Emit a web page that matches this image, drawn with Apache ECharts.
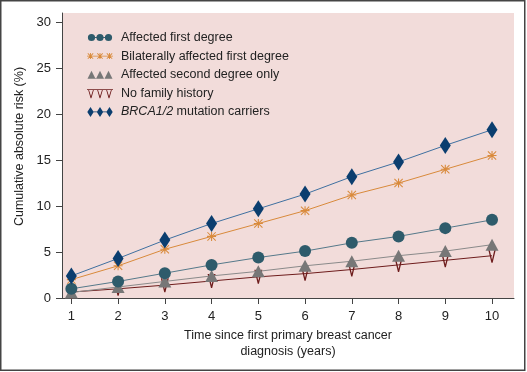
<!DOCTYPE html>
<html>
<head>
<meta charset="utf-8">
<script src="https://cdn.jsdelivr.net/npm/echarts@6/dist/echarts.min.js"></script>
<style>
html,body{margin:0;padding:0;background:#fff;}
#chart{width:527px;height:372px;}
</style>
</head>
<body>
<div id="chart"></div>
<script>
// ---- data ----
const years = [1, 2, 3, 4, 5, 6, 7, 8, 9, 10];
const seriesNames = [
  'Affected first degree',
  'Bilaterally affected first degree',
  'Affected second degree only',
  'No family history',
  'BRCA1/2 mutation carriers'
];
const affectedFirst = [1.0, 1.8, 2.7, 3.6, 4.4, 5.1, 6.0, 6.7, 7.6, 8.5];
const bilateralFirst = [2.0, 3.5, 5.3, 6.7, 8.1, 9.5, 11.2, 12.5, 14.0, 15.5];
const secondDegree = [0.6, 1.2, 1.8, 2.4, 2.9, 3.5, 4.0, 4.6, 5.1, 5.8];
const noFamily = [0.65, 1.0, 1.4, 1.85, 2.3, 2.65, 3.1, 3.6, 4.1, 4.6];
const brca = [2.4, 4.3, 6.3, 8.1, 9.7, 11.3, 13.2, 14.8, 16.6, 18.3];
const yTicks = [0, 5, 10, 15, 20, 25, 30];
const xTicks = [1, 2, 3, 4, 5, 6, 7, 8, 9, 10];

const zip = arr => years.map((x, i) => [x, arr[i]]);

// ---- marker shapes ----
const asterisk = 'path://M4.4,0 L5.6,0 L5.6,10 L4.4,10 Z M0,4.4 L10,4.4 L10,5.6 L0,5.6 Z M0.8,0 L10,9.2 L9.2,10 L0,0.8 Z M9.2,0 L10,0.8 L0.8,10 L0,9.2 Z';
const vee = 'path://M0,0 L1.4,0 L4,11 L6.6,0 L8,0 L4.6,14 L3.4,14 Z';

// legend icons (26 x 10 boxes)
function circ(cx, cy, r) {
  return 'M' + (cx - r) + ',' + cy + ' A' + r + ',' + r + ' 0 1,1 ' + (cx + r) + ',' + cy + ' A' + r + ',' + r + ' 0 1,1 ' + (cx - r) + ',' + cy + ' Z ';
}
const bbox = 'M0,0 L0.01,0 L0,0.01 Z M26,10 L25.99,10 L26,9.99 Z ';
const iconCircle = 'path://' + bbox + circ(4.5, 5, 3.6) + circ(13, 5, 3.6) + circ(21.5, 5, 3.6) +
  'M8.1,4.6 L9.4,4.6 L9.4,5.4 L8.1,5.4 Z M16.6,4.6 L17.9,4.6 L17.9,5.4 L16.6,5.4 Z';
function astAt(cx, cy, s) {
  const h = s / 2, t = 0.45;
  return 'M' + (cx - t) + ',' + (cy - h) + ' L' + (cx + t) + ',' + (cy - h) + ' L' + (cx + t) + ',' + (cy + h) + ' L' + (cx - t) + ',' + (cy + h) + ' Z ' +
    'M' + (cx - h) + ',' + (cy - t) + ' L' + (cx + h) + ',' + (cy - t) + ' L' + (cx + h) + ',' + (cy + t) + ' L' + (cx - h) + ',' + (cy + t) + ' Z ' +
    'M' + (cx - h + 0.6) + ',' + (cy - h) + ' L' + (cx + h) + ',' + (cy + h - 0.6) + ' L' + (cx + h - 0.6) + ',' + (cy + h) + ' L' + (cx - h) + ',' + (cy - h + 0.6) + ' Z ' +
    'M' + (cx + h - 0.6) + ',' + (cy - h) + ' L' + (cx + h) + ',' + (cy - h + 0.6) + ' L' + (cx - h + 0.6) + ',' + (cy + h) + ' L' + (cx - h) + ',' + (cy + h - 0.6) + ' Z ';
}
const iconAst = 'path://' + bbox + astAt(3.5, 5, 6) + astAt(13, 5, 6) + astAt(22.5, 5, 6) + 'M0,4.6 L26,4.6 L26,5.4 L0,5.4 Z';
function triAt(cx) { return 'M' + (cx - 4) + ',9 L' + cx + ',1 L' + (cx + 4) + ',9 Z '; }
const iconTri = 'path://' + bbox + triAt(4.5) + triAt(13) + triAt(21.5) + 'M8.5,8.2 L9,8.2 L9,9 L8.5,9 Z';
function veeAt(cx) {
  return 'M' + (cx - 3) + ',1 L' + (cx - 2.2) + ',1 L' + cx + ',8 L' + (cx + 2.2) + ',1 L' + (cx + 3) + ',1 L' + (cx + 0.4) + ',10 L' + (cx - 0.4) + ',10 Z ';
}
const iconVee = 'path://' + bbox + veeAt(4) + veeAt(13) + veeAt(22) + 'M0,1 L26,1 L26,1.8 L0,1.8 Z';
function diaAt(cx) { return 'M' + cx + ',0 L' + (cx + 3.2) + ',5 L' + cx + ',10 L' + (cx - 3.2) + ',5 Z '; }
const iconDia = 'path://' + bbox + diaAt(3.5) + diaAt(13) + diaAt(22.5) + 'M5,4.6 L21,4.6 L21,5.4 L5,5.4 Z';

const FONT = '"Liberation Sans", Arial, Helvetica, sans-serif';
const chart = echarts.init(document.getElementById('chart'));

function mkSeries(name, arr, symbol, size, mColor, lColor, z) {
  return {
    name: name, type: 'line', data: zip(arr), symbol: symbol, symbolSize: size,
    showSymbol: true, z: z,
    itemStyle: { color: mColor },
    lineStyle: { color: lColor, width: 1 },
    emphasis: { disabled: true }, animation: false
  };
}

chart.setOption({
  animation: false,
  backgroundColor: '#ffffff',
  textStyle: { fontFamily: FONT },
  grid: { left: 62, right: 13, top: 13, bottom: 74, show: true, backgroundColor: '#f2dcda', borderWidth: 0 },
  legend: {
    left: 87, top: 31, orient: 'vertical', padding: 0,
    itemWidth: 26, itemHeight: 10, itemGap: 5.6,
    data: [
      { name: seriesNames[0], icon: iconCircle },
      { name: seriesNames[1], icon: iconAst },
      { name: seriesNames[2], icon: iconTri },
      { name: seriesNames[3], icon: iconVee },
      { name: seriesNames[4], icon: iconDia }
    ],
    formatter: function (n) {
      return n.indexOf('BRCA1/2') === 0 ? '{i|BRCA1/2}{n| mutation carriers}' : '{n|' + n + '}';
    },
    textStyle: {
      fontFamily: FONT, fontSize: 12.5, color: '#222', padding: [0, 0, 0, 3],
      rich: {
        n: { fontFamily: FONT, fontSize: 12.5, color: '#222' },
        i: { fontFamily: FONT, fontSize: 12.5, color: '#222', fontStyle: 'italic' }
      }
    }
  },
  xAxis: {
    type: 'value', min: 0.8, max: 10.47,
    name: 'Time since first primary breast cancer\ndiagnosis (years)',
    nameLocation: 'middle', nameGap: 30,
    nameTextStyle: { fontFamily: FONT, fontSize: 12.5, color: '#222', lineHeight: 16 },
    splitLine: { show: false },
    axisLine: { show: true, onZero: false, lineStyle: { color: '#444', width: 1 } },
    axisTick: { show: true, length: 6, customValues: xTicks, lineStyle: { color: '#444' } },
    axisLabel: { customValues: xTicks, margin: 12, fontFamily: FONT, fontSize: 13, color: '#222' }
  },
  yAxis: {
    type: 'value', min: 0, max: 31,
    name: 'Cumulative absolute risk (%)',
    nameLocation: 'middle', nameGap: 35,
    nameTextStyle: { fontFamily: FONT, fontSize: 12.5, color: '#222', padding: [0, 0, 0, 18] },
    splitLine: { show: false },
    axisLine: { show: true, lineStyle: { color: '#444', width: 1 } },
    axisTick: { show: true, length: 6, customValues: yTicks, lineStyle: { color: '#444' } },
    axisLabel: { customValues: yTicks, margin: 11, fontFamily: FONT, fontSize: 13, color: '#222' }
  },
  series: [
    mkSeries(seriesNames[3], noFamily, vee, [8, 14], '#6e1c1c', '#6e1c1c', 2),
    mkSeries(seriesNames[2], secondDegree, 'triangle', [13, 12], '#777777', '#8a8a8a', 3),
    mkSeries(seriesNames[0], affectedFirst, 'circle', 12, '#2e5b6b', '#55798a', 4),
    mkSeries(seriesNames[1], bilateralFirst, asterisk, 9, '#d98a3b', '#d98a3b', 5),
    mkSeries(seriesNames[4], brca, 'diamond', [11, 17], '#0b3e6f', '#3f70a0', 6)
  ],
  graphic: [{
    type: 'rect', silent: true, z: 100,
    shape: { x: 0.75, y: 0.75, width: 524, height: 369.5 },
    style: { fill: 'none', stroke: '#444', lineWidth: 1.5 }
  }]
});
</script>
</body>
</html>
